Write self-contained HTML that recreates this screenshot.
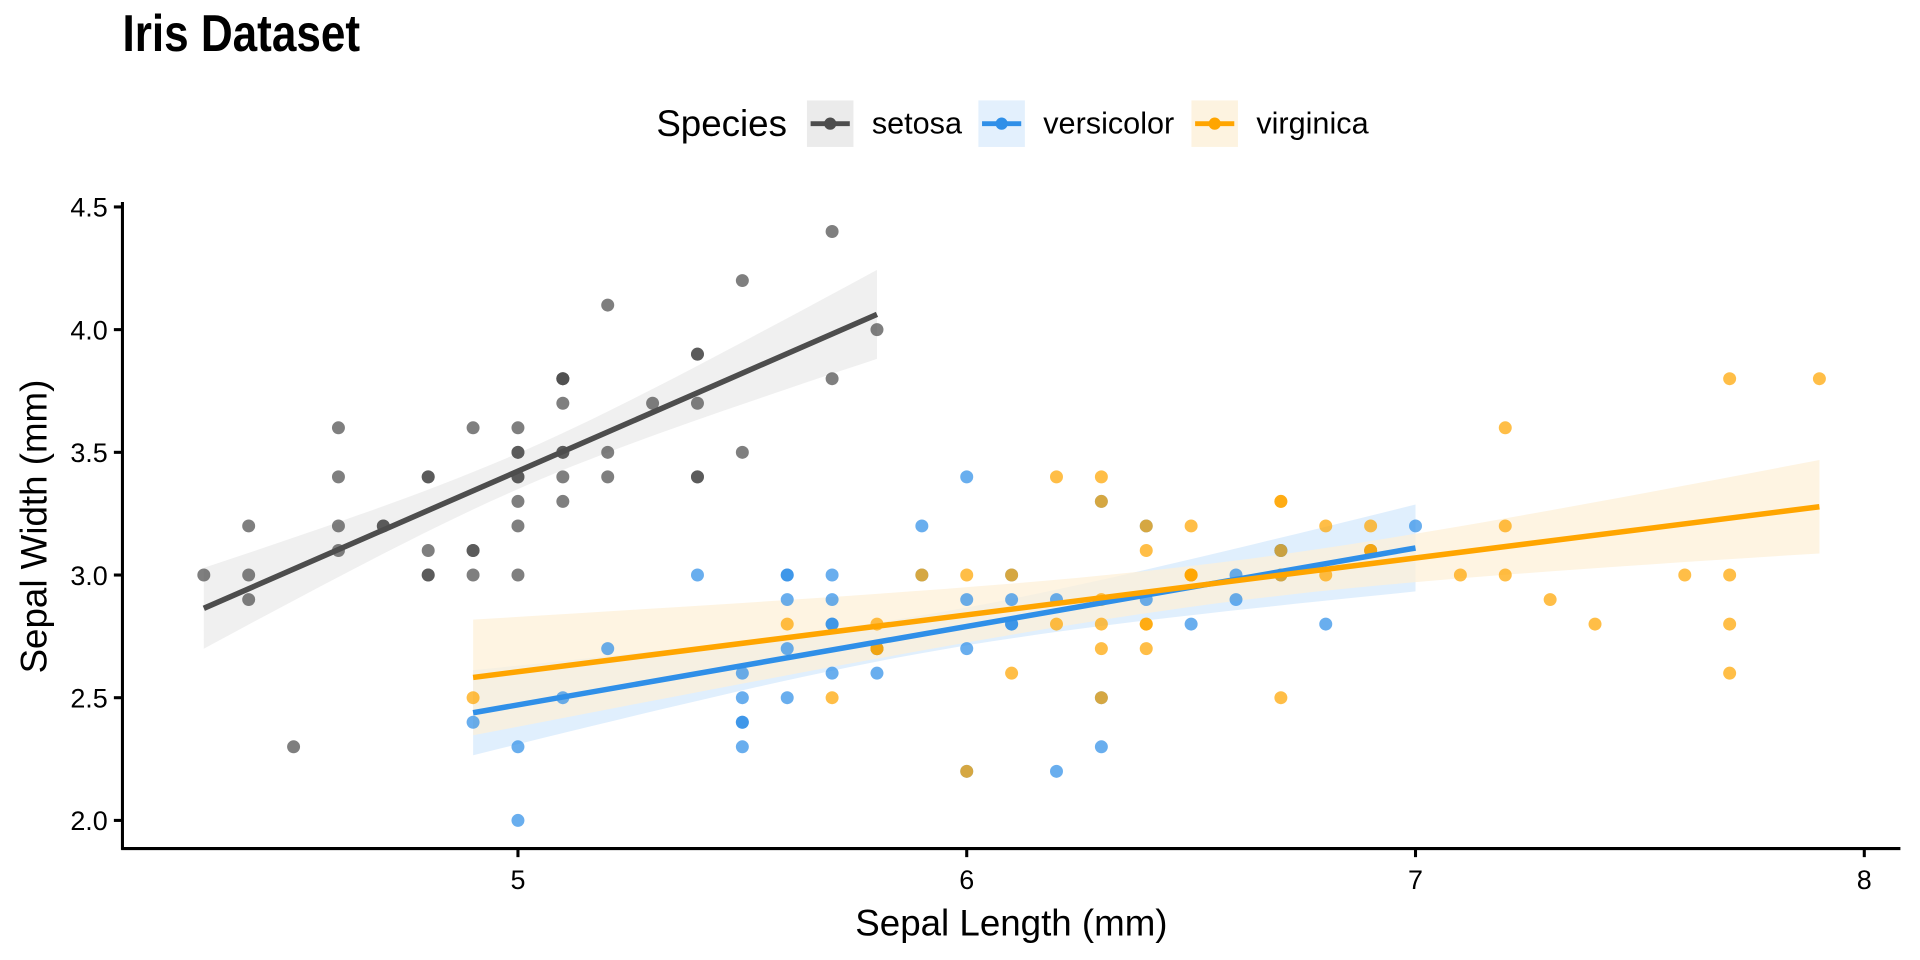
<!DOCTYPE html>
<html><head><meta charset="utf-8"><style>
html,body{margin:0;padding:0;background:#fff;}
svg{display:block;font-family:"Liberation Sans",Arial,sans-serif;}
</style></head><body>
<svg id="s" width="1920" height="960" viewBox="0 0 1568 784" xmlns="http://www.w3.org/2000/svg">
<rect width="1568" height="784" fill="#fff"/>
<text x="100" y="42" font-size="36" font-weight="bold" transform="translate(0,-8) scale(1,1.18)" >Iris Dataset</text>
<text x="536" y="111" font-size="30">Species</text>
<rect x="659" y="82" width="38" height="38" fill="#ebebeb"/>
<line x1="662" y1="101" x2="694" y2="101" stroke="#4d4d4d" stroke-width="4"/>
<circle cx="678" cy="101" r="5" fill="#4d4d4d"/>
<text x="712" y="109" font-size="25">setosa</text>
<rect x="799" y="82" width="38" height="38" fill="#e3f0fd"/>
<line x1="802" y1="101" x2="834" y2="101" stroke="#2f8fe8" stroke-width="4"/>
<circle cx="818" cy="101" r="5" fill="#2f8fe8"/>
<text x="852" y="109" font-size="25">versicolor</text>
<rect x="973" y="82" width="38" height="38" fill="#fdf3e0"/>
<line x1="976" y1="101" x2="1008" y2="101" stroke="#ffa500" stroke-width="4"/>
<circle cx="992" cy="101" r="5" fill="#ffa500"/>
<text x="1026" y="109" font-size="25">virginica</text>
<g id="plot"></g>
<line x1="100" y1="165" x2="100" y2="694" stroke="#000" stroke-width="2.5"/>
<line x1="99" y1="693" x2="1552" y2="693" stroke="#000" stroke-width="2.5"/>
<text x="826" y="764" font-size="30" text-anchor="middle">Sepal Length (mm)</text>
<text transform="translate(38,430) rotate(-90)" font-size="30" text-anchor="middle">Sepal Width (mm)</text>
<g id="ticks" font-size="22"></g>
</svg>
<script>
const X=v=>423+(v-5)*366.5, Y=v=>670-(v-2)*200.4;
const set="5.1,3.5;4.9,3.0;4.7,3.2;4.6,3.1;5.0,3.6;5.4,3.9;4.6,3.4;5.0,3.4;4.4,2.9;4.9,3.1;5.4,3.7;4.8,3.4;4.8,3.0;4.3,3.0;5.8,4.0;5.7,4.4;5.4,3.9;5.1,3.5;5.7,3.8;5.1,3.8;5.4,3.4;5.1,3.7;4.6,3.6;5.1,3.3;4.8,3.4;5.0,3.0;5.0,3.4;5.2,3.5;5.2,3.4;4.7,3.2;4.8,3.1;5.4,3.4;5.2,4.1;5.5,4.2;4.9,3.1;5.0,3.2;5.5,3.5;4.9,3.6;4.4,3.0;5.1,3.4;5.0,3.5;4.5,2.3;4.4,3.2;5.0,3.5;5.1,3.8;4.8,3.0;5.1,3.8;4.6,3.2;5.3,3.7;5.0,3.3";
const ver="7.0,3.2;6.4,3.2;6.9,3.1;5.5,2.3;6.5,2.8;5.7,2.8;6.3,3.3;4.9,2.4;6.6,2.9;5.2,2.7;5.0,2.0;5.9,3.0;6.0,2.2;6.1,2.9;5.6,2.9;6.7,3.1;5.6,3.0;5.8,2.7;6.2,2.2;5.6,2.5;5.9,3.2;6.1,2.8;6.3,2.5;6.1,2.8;6.4,2.9;6.6,3.0;6.8,2.8;6.7,3.0;6.0,2.9;5.7,2.6;5.5,2.4;5.5,2.4;5.8,2.7;6.0,2.7;5.4,3.0;6.0,3.4;6.7,3.1;6.3,2.3;5.6,3.0;5.5,2.5;5.5,2.6;6.1,3.0;5.8,2.6;5.0,2.3;5.6,2.7;5.7,3.0;5.7,2.9;6.2,2.9;5.1,2.5;5.7,2.8";
const vir="6.3,3.3;5.8,2.7;7.1,3.0;6.3,2.9;6.5,3.0;7.6,3.0;4.9,2.5;7.3,2.9;6.7,2.5;7.2,3.6;6.5,3.2;6.4,2.7;6.8,3.0;5.7,2.5;5.8,2.8;6.4,3.2;6.5,3.0;7.7,3.8;7.7,2.6;6.0,2.2;6.9,3.2;5.6,2.8;7.7,2.8;6.3,2.7;6.7,3.3;7.2,3.2;6.2,2.8;6.1,3.0;6.4,2.8;7.2,3.0;7.4,2.8;7.9,3.8;6.4,2.8;6.3,2.8;6.1,2.6;7.7,3.0;6.3,3.4;6.4,3.1;6.0,3.0;6.9,3.1;6.7,3.1;6.9,3.1;5.8,2.7;6.8,3.2;6.7,3.3;6.7,3.0;6.3,2.5;6.5,3.0;6.2,3.4;5.9,3.0";
const parse=s=>s.split(";").map(p=>p.split(",").map(Number));
const groups=[[parse(set),"#4d4d4d","#ebebeb"],[parse(ver),"#2f8fe8","#d6e9fc"],[parse(vir),"#ffa500","#fdf0d8"]];
let bands="",lines="",pts="";
groups.forEach(([d,c,f])=>{
  const n=d.length,mx=d.reduce((a,p)=>a+p[0],0)/n,my=d.reduce((a,p)=>a+p[1],0)/n;
  let sxx=0,sxy=0;d.forEach(p=>{sxx+=(p[0]-mx)**2;sxy+=(p[0]-mx)*(p[1]-my);});
  const b=sxy/sxx,a=my-b*mx;let sse=0;d.forEach(p=>{sse+=(p[1]-a-b*p[0])**2;});
  const se=Math.sqrt(sse/(n-2)),t=2.01;
  const x0=Math.min(...d.map(p=>p[0])),x1=Math.max(...d.map(p=>p[0]));
  const up=[],lo=[];
  for(let i=0;i<=40;i++){const x=x0+(x1-x0)*i/40,yh=a+b*x,h=t*se*Math.sqrt(1/n+(x-mx)**2/sxx);
    up.push(X(x).toFixed(1)+","+Y(yh+h).toFixed(1));lo.unshift(X(x).toFixed(1)+","+Y(yh-h).toFixed(1));}
  bands+=`<polygon points="${up.concat(lo).join(" ")}" fill="${f}" fill-opacity="0.75"/>`;
  lines+=`<line x1="${X(x0)}" y1="${Y(a+b*x0)}" x2="${X(x1)}" y2="${Y(a+b*x1)}" stroke="${c}" stroke-width="4.5"/>`;
  d.forEach(p=>{pts+=`<circle cx="${X(p[0])}" cy="${Y(p[1])}" r="5.3" fill="${c}" fill-opacity="0.72"/>`;});
});
document.getElementById("plot").innerHTML=bands+pts+lines;
let tk="";
[5,6,7,8].forEach(v=>{tk+=`<line x1="${X(v)}" y1="693" x2="${X(v)}" y2="700" stroke="#000" stroke-width="2.5"/><text x="${X(v)}" y="726" text-anchor="middle" fill="#000">${v}</text>`;});
[2,2.5,3,3.5,4,4.5].forEach(v=>{tk+=`<line x1="93" y1="${Y(v)}" x2="100" y2="${Y(v)}" stroke="#000" stroke-width="2.5"/><text x="88" y="${Y(v)+8}" text-anchor="end" fill="#000">${v.toFixed(1)}</text>`;});
document.getElementById("ticks").innerHTML=tk;
</script>
</body></html>
